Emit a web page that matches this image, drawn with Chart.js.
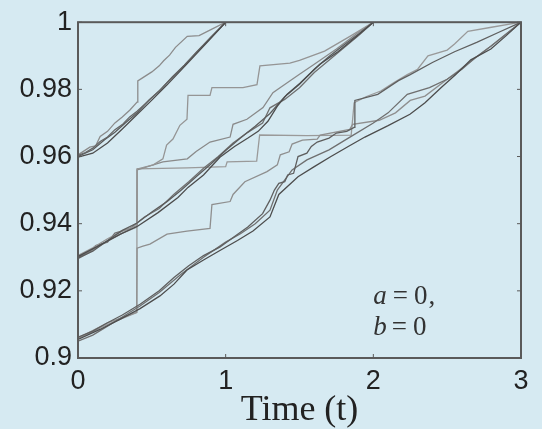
<!DOCTYPE html>
<html><head><meta charset="utf-8">
<script src="https://cdn.jsdelivr.net/npm/chart.js@4.4.0/dist/chart.umd.min.js"></script>
<style>html,body{margin:0;padding:0;background:#d6eaf2;}#wrap{width:542px;height:429px;}</style>
</head><body><div id="wrap"><canvas id="c" width="542" height="429"></canvas></div>
<script>
// ---- data ----
const xTicks = [0, 1, 2, 3];
const yTicks = [0.9, 0.92, 0.94, 0.96, 0.98, 1];
const yTickLabels = ['0.9', '0.92', '0.94', '0.96', '0.98', '1'];
const xTitle = 'Time (t)';

// group starting at 0.96, ending at t=1
const g1a = [[0,0.9598],[0.1,0.9610],[0.2,0.9640],[0.3,0.9682],[0.4,0.9725],[0.5,0.9768],[0.6,0.9812],[0.7,0.9858],[0.8,0.9905],[0.9,0.9952],[1,1]];
const g1b = [[0,0.9603],[0.05,0.9612],[0.1,0.9625],[0.15,0.9645],[0.2,0.9658],[0.25,0.9680],[0.3,0.9695],[0.35,0.9718],[0.4,0.9735],[0.45,0.9755],[0.5,0.9775],[0.55,0.9795],[0.6,0.9818],[0.65,0.9840],[0.7,0.9862],[0.8,0.9908],[0.9,0.9955],[1,1]];
const g1c = [[0,0.9605],[0.08,0.9628],[0.12,0.9632],[0.15,0.9660],[0.2,0.9675],[0.25,0.9700],[0.3,0.9718],[0.35,0.9738],[0.40,0.9762],[0.405,0.9825],[0.45,0.9838],[0.5,0.9852],[0.55,0.9870],[0.58,0.9885],[0.62,0.9902],[0.66,0.9925],[0.74,0.9958],[0.82,0.9960],[0.9,0.9978],[1,1]];
const g1d = [[0,0.9600],[0.1,0.9620],[0.18,0.9650],[0.25,0.9672],[0.32,0.9700],[0.4,0.9730],[0.48,0.9768],[0.56,0.9800],[0.64,0.9838],[0.72,0.9872],[0.8,0.9910],[0.9,0.9955],[1,1]];

// group starting at 0.93, ending at t=2
const g2a = [[0,0.9302],[0.135,0.9333],[0.284,0.9368],[0.406,0.9393],[0.542,0.9433],[0.677,0.9478],[0.745,0.9508],[0.85,0.9545],[0.961,0.9598],[1.06,0.9630],[1.151,0.9655],[1.22,0.9675],[1.286,0.9705],[1.35,0.9750],[1.415,0.9785],[1.503,0.9818],[1.638,0.9875],[1.76,0.9912],[1.88,0.9955],[2,1]];
const g2b = [[0,0.9298],[0.1,0.9318],[0.2,0.9350],[0.3,0.9380],[0.4,0.9402],[0.5,0.9435],[0.6,0.9465],[0.7,0.9500],[0.8,0.9540],[0.9,0.9578],[1.0,0.9618],[1.1,0.9655],[1.2,0.9690],[1.3,0.9728],[1.4,0.9778],[1.5,0.9815],[1.6,0.9860],[1.7,0.9898],[1.8,0.9932],[1.9,0.9965],[2,1]];
const g2c = [[0,0.9305],[0.1,0.9328],[0.2,0.9355],[0.3,0.9378],[0.40,0.9395],[0.402,0.9563],[0.51,0.9575],[0.575,0.9593],[0.60,0.9634],[0.643,0.9652],[0.69,0.9693],[0.738,0.9711],[0.745,0.9782],[0.894,0.9782],[0.907,0.9805],[1.117,0.9805],[1.212,0.9814],[1.232,0.9870],[1.435,0.9878],[1.5,0.9886],[1.67,0.9914],[1.85,0.9960],[2,1]];
const g2d = [[0,0.9300],[0.1,0.9322],[0.2,0.9348],[0.3,0.9372],[0.398,0.9390],[0.40,0.9560],[0.575,0.9584],[0.74,0.9593],[0.80,0.9615],[0.894,0.9643],[1.03,0.9658],[1.05,0.9696],[1.144,0.9711],[1.253,0.9746],[1.32,0.9790],[1.368,0.9805],[1.5,0.9845],[1.6,0.9875],[1.75,0.9920],[1.9,0.9970],[2,1]];
const g2e = [[0,0.9296],[0.08,0.9315],[0.12,0.9335],[0.2,0.9345],[0.25,0.9372],[0.35,0.9385],[0.45,0.9420],[0.55,0.9445],[0.65,0.9488],[0.75,0.9525],[0.85,0.9565],[0.95,0.9600],[1.05,0.9640],[1.15,0.9672],[1.25,0.9700],[1.3,0.9745],[1.4,0.9770],[1.5,0.9805],[1.6,0.9850],[1.75,0.9905],[1.9,0.9960],[2,1]];

// group starting near 0.905, ending at t=3
const g3a = [[0,0.9055],[0.149,0.9085],[0.284,0.9115],[0.42,0.9147],[0.555,0.9185],[0.65,0.9220],[0.738,0.9262],[0.85,0.9292],[0.961,0.9320],[1.08,0.9350],[1.185,0.9378],[1.30,0.9420],[1.36,0.9487],[1.49,0.9540],[1.6,0.9570],[1.713,0.9600],[1.83,0.9630],[1.943,0.9658],[2.1,0.9692],[2.248,0.9726],[2.35,0.9760],[2.458,0.9805],[2.56,0.9845],[2.66,0.9888],[2.796,0.9920],[2.9,0.9960],[3,1]];
const g3b = [[0,0.9062],[0.1,0.9080],[0.2,0.9105],[0.3,0.9128],[0.42,0.9160],[0.55,0.9200],[0.65,0.9240],[0.75,0.9275],[0.85,0.9305],[0.96,0.9330],[1.06,0.9362],[1.15,0.9390],[1.25,0.9430],[1.30,0.9470],[1.33,0.9500],[1.36,0.9520],[1.40,0.9525],[1.42,0.9545],[1.46,0.9550],[1.49,0.9600],[1.55,0.9610],[1.58,0.9630],[1.62,0.9643],[1.70,0.9655],[1.75,0.9670],[1.82,0.9675],[1.87,0.9687],[1.875,0.9767],[2.03,0.9785],[2.17,0.9826],[2.25,0.9844],[2.4,0.9880],[2.55,0.9912],[2.7,0.9940],[2.85,0.9970],[3,1]];
const g3c = [[0,0.9050],[0.1,0.9068],[0.2,0.9095],[0.3,0.9122],[0.42,0.9155],[0.55,0.9195],[0.7,0.9250],[0.85,0.9300],[1.0,0.9345],[1.1,0.9370],[1.2,0.9400],[1.3,0.9440],[1.35,0.9500],[1.45,0.9560],[1.55,0.9590],[1.7,0.9620],[1.85,0.9660],[2.0,0.9700],[2.1,0.9730],[2.23,0.9785],[2.38,0.9805],[2.5,0.9830],[2.6,0.9860],[2.69,0.9894],[2.8,0.9930],[2.9,0.9965],[3,1]];
const g3d = [[0,0.9060],[0.1,0.9082],[0.2,0.9105],[0.3,0.9120],[0.398,0.9136],[0.40,0.9327],[0.44,0.9333],[0.487,0.9339],[0.603,0.9369],[0.738,0.9378],[0.894,0.9386],[0.907,0.9457],[1.03,0.9466],[1.05,0.9487],[1.13,0.9525],[1.28,0.9555],[1.35,0.9575],[1.37,0.9605],[1.43,0.9614],[1.45,0.9637],[1.52,0.9649],[1.62,0.9652],[1.64,0.9664],[1.84,0.9681],[1.86,0.9696],[2.04,0.9708],[2.15,0.9730],[2.25,0.9767],[2.35,0.9780],[2.5,0.9830],[2.65,0.9880],[2.8,0.9930],[3,1]];
const g3e = [[0,0.9058],[0.1,0.9078],[0.2,0.9100],[0.3,0.9118],[0.398,0.9135],[0.40,0.9563],[0.74,0.9566],[1.0,0.9570],[1.01,0.9584],[1.21,0.9586],[1.23,0.9664],[1.55,0.9662],[1.85,0.9664],[1.87,0.9760],[1.95,0.9778],[2.05,0.9795],[2.14,0.9820],[2.23,0.9844],[2.3,0.9860],[2.37,0.9900],[2.5,0.9917],[2.55,0.9935],[2.64,0.9973],[2.8,0.9985],[3,1]];

const paths = [
  {d: g1a, c: '#4d4d4d'}, {d: g1b, c: '#666666'}, {d: g1c, c: '#8c8c8c'}, {d: g1d, c: '#5a5a5a'},
  {d: g2a, c: '#4d4d4d'}, {d: g2b, c: '#5c5c5c'}, {d: g2c, c: '#959595'}, {d: g2d, c: '#8a8a8a'}, {d: g2e, c: '#707070'},
  {d: g3a, c: '#4d4d4d'}, {d: g3b, c: '#5f5f5f'}, {d: g3c, c: '#6f6f6f'}, {d: g3d, c: '#8f8f8f'}, {d: g3e, c: '#9a9a9a'}
];

const BG = '#d6eaf2';
const AXIS = '#5a5a5a';

const framePlugin = {
  id: 'frame',
  beforeDraw(chart) {
    const ctx = chart.ctx;
    ctx.save();
    ctx.fillStyle = BG;
    ctx.fillRect(0, 0, chart.width, chart.height);
    ctx.restore();
  },
  afterDatasetsDraw(chart) {
    const {ctx, chartArea: a, scales} = chart;
    ctx.save();
    ctx.strokeStyle = AXIS;
    ctx.lineWidth = 2;
    ctx.strokeRect(a.left, a.top, a.right - a.left, a.bottom - a.top);
    ctx.lineWidth = 1;
    const tl = 4;
    ctx.beginPath();
    xTicks.forEach(v => {
      const x = scales.x.getPixelForValue(v);
      ctx.moveTo(x, a.bottom); ctx.lineTo(x, a.bottom - tl);
      ctx.moveTo(x, a.top); ctx.lineTo(x, a.top + tl);
    });
    yTicks.forEach(v => {
      const y = scales.y.getPixelForValue(v);
      ctx.moveTo(a.left, y); ctx.lineTo(a.left + tl, y);
      ctx.moveTo(a.right, y); ctx.lineTo(a.right - tl, y);
    });
    ctx.stroke();
    // annotation "a = 0," / "b = 0"
    const x0 = scales.x.getPixelForValue(2);
    const ya = scales.y.getPixelForValue(0.9182);
    const yb = scales.y.getPixelForValue(0.9090);
    ctx.fillStyle = '#333';
    ctx.textBaseline = 'middle';
    ctx.textAlign = 'left';
    const it = 'italic 27px "Liberation Serif", serif';
    const rm = '27px "Liberation Serif", serif';
    function seg(parts, x, y) {
      parts.forEach(p => { ctx.font = p[1]; ctx.fillText(p[0], x, y); x += ctx.measureText(p[0]).width + p[2]; });
    }
    seg([['a', it, 6], ['=', rm, 6], ['0', rm, 1], [',', rm, 0]], x0, ya);
    seg([['b', it, 5], ['=', rm, 6], ['0', rm, 0]], x0, yb);
    ctx.restore();
  }
};

new Chart(document.getElementById('c'), {
  type: 'scatter',
  data: {
    datasets: paths.map(p => ({
      data: p.d.map(q => ({x: q[0], y: q[1]})),
      showLine: true,
      borderColor: p.c,
      borderWidth: 1.3,
      pointRadius: 0,
      tension: 0,
      fill: false
    }))
  },
  options: {
    responsive: false,
    animation: false,
    devicePixelRatio: 1,
    layout: {padding: {top: 19, right: 21, left: 0, bottom: 0}},
    plugins: {legend: {display: false}, tooltip: {enabled: false}},
    scales: {
      x: {
        type: 'linear', min: 0, max: 3,
        afterBuildTicks: s => { s.ticks = xTicks.map(v => ({value: v})); },
        afterFit: s => { s.height = 71; },
        grid: {display: false, drawTicks: false},
        border: {display: false},
        ticks: {color: '#222', font: {family: '"Liberation Sans", Arial, sans-serif', size: 27}, padding: 7, maxRotation: 0, autoSkip: false, callback: v => String(v)},
        title: {display: true, text: xTitle, color: '#222', font: {family: '"Liberation Serif", serif', size: 36, lineHeight: 1.0}, padding: {top: 0, bottom: 0}}
      },
      y: {
        type: 'linear', min: 0.9, max: 1,
        afterBuildTicks: s => { s.ticks = yTicks.map(v => ({value: v})); },
        afterFit: s => { s.width = 78; },
        grid: {display: false, drawTicks: false},
        border: {display: false},
        ticks: {color: '#222', font: {family: '"Liberation Sans", Arial, sans-serif', size: 27}, padding: 6, autoSkip: false,
          callback: (v) => { const i = yTicks.findIndex(t => Math.abs(t - v) < 1e-9); return i >= 0 ? yTickLabels[i] : ''; }}
      }
    }
  },
  plugins: [framePlugin]
});
</script>
</body></html>
